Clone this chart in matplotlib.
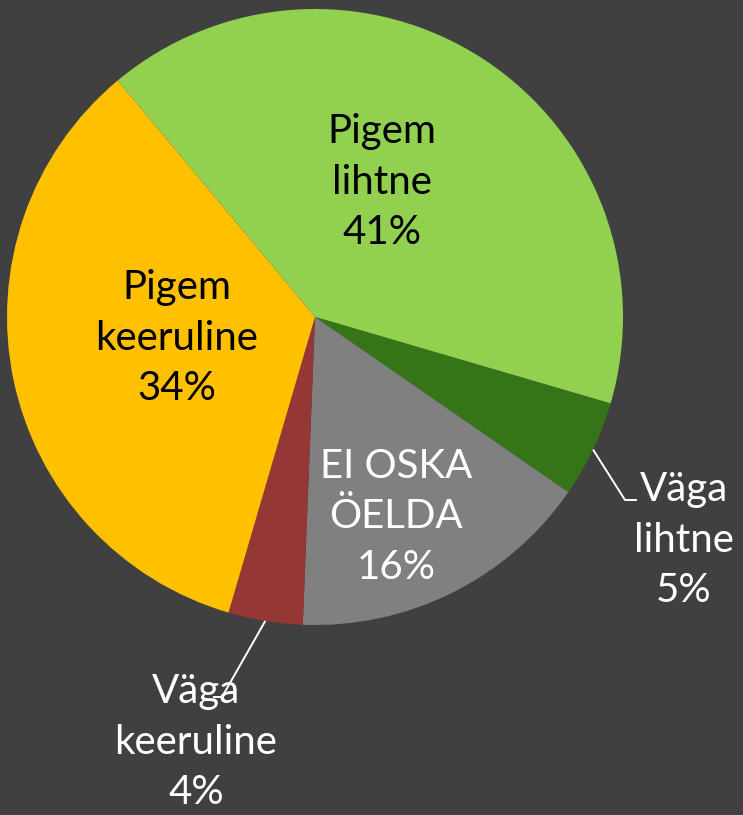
import matplotlib
matplotlib.use("Agg")
import matplotlib.pyplot as plt
import numpy as np

categories = ["Pigem lihtne", "Väga lihtne", "EI OSKA ÖELDA", "Väga keeruline", "Pigem keeruline"]
label_text = ["Pigem\nlihtne", "Väga\nlihtne", "EI OSKA\nÖELDA", "Väga\nkeeruline", "Pigem\nkeeruline"]
values = [40.6, 5.1, 16.0, 3.9, 34.4]
colors = ["#92D050", "#357517", "#808080", "#953735", "#FFC000"]
text_colors = ["#000000", "#FFFFFF", "#FFFFFF", "#FFFFFF", "#000000"]

BG = "#404040"
W, H = 743, 815
fig = plt.figure(figsize=(W / 100, H / 100), dpi=100, facecolor=BG)
ax = fig.add_axes([0, 0, 1, 1])
ax.set_facecolor(BG)

cx, cy, R = 315, 815 - 317, 308
start = 129.85
wedges, _ = ax.pie(values, colors=colors, startangle=start, counterclock=False,
                   center=(cx, cy), radius=R, frame=True,
                   wedgeprops=dict(linewidth=0))
ax.set_xlim(0, W)
ax.set_ylim(0, H)
ax.set_aspect("equal")
ax.axis("off")

# label positions (pixel, top-origin) -> layout only
label_pos = [(382, 182), (684, 540), (396, 517), (196, 742), (177, 338)]
fs = 29
font = "Lato"
total = sum(values)
for txt, v, (lx, ly), tc in zip(label_text, values, label_pos, text_colors):
    ax.text(lx, H - ly, f"{txt}\n{round(100 * v / total)}%", ha="center", va="center",
            color=tc, fontsize=fs, family=font, linespacing=1.45)

# leader lines
def leader(i, end, hx):
    w = wedges[i]
    mid = np.deg2rad((w.theta1 + w.theta2) / 2)
    x0, y0 = cx + R * np.cos(mid), cy + R * np.sin(mid)
    ax.plot([x0, end[0], hx], [y0, H - end[1], H - end[1]], color="white", lw=1.4,
            solid_capstyle="butt")

leader(1, (625, 500), 637)
leader(3, (222, 697), 213)

fig.savefig("out.png", dpi=100, facecolor=BG)
